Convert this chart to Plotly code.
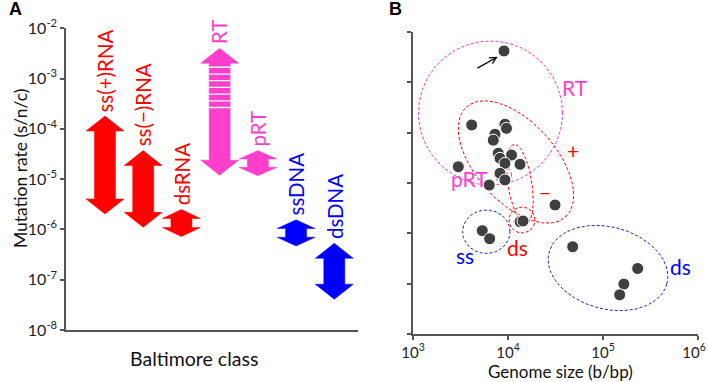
import numpy as np
import plotly.graph_objects as go

# ---------------- DATA ----------------
# Panel A: Baltimore classes, mutation-rate ranges (s/n/c)
classes = ["ss(+)RNA", "ss(\u2212)RNA", "dsRNA", "RT", "pRT", "ssDNA", "dsDNA"]
rate_low = [2.03e-6, 1.1e-6, 7.2e-7, 1.2e-5, 1.17e-5, 4.7e-7, 4.1e-8]
rate_high = [1.8e-4, 3.7e-5, 2.5e-6, 4.0e-3, 3.7e-5, 1.55e-6, 5.3e-7]
class_colors = ["#ff0000", "#ff0000", "#ff0000", "#ff3fcc", "#ff3fcc", "#0000ff", "#0000ff"]
rt_stripes = [1.68e-3, 1.23e-3, 9.1e-4, 6.7e-4, 4.9e-4, 3.6e-4, 2.66e-4]

# Panel B: genome size (b/bp) vs mutation rate (s/n/c)
genome_size = [9080, 4150, 9290, 9640, 7300, 7000, 7900, 10900, 8240, 9290, 13400,
               3000, 8240, 9290, 6350, 31300, 13400, 14400, 5360, 6410, 48000,
               232000, 166000, 150000]
mut_rate = [4.2e-3, 1.42e-4, 1.47e-4, 1.22e-4, 9.3e-5, 7.1e-5, 3.9e-5, 3.6e-5, 3.1e-5,
            2.46e-5, 2.35e-5, 2.1e-5, 1.56e-5, 1.15e-5, 9.1e-6, 3.66e-6, 1.7e-6,
            1.76e-6, 1.13e-6, 7.8e-7, 5.4e-7, 2.0e-7, 9.8e-8, 6.0e-8]

y_tick_exp = [-8, -7, -6, -5, -4, -3, -2]
x_tick_exp = [3, 4, 5, 6]
x_tick_text = ["10<sup>3</sup>", "10<sup>4</sup>", "10<sup>5</sup>", "10<sup>6</sup>\u00a0\u00a0"]

# ------------- LAYOUT GEOMETRY -------------
W, H = 708, 382
A_x0, A_x1, A_ytop, A_ybot = 66, 358, 28.3, 330
B_x0, B_x1, B_ytop, B_ybot = 413, 698, 32, 334
A_xrange = [-1.02, 6.62]
B_xrange = [3, 6]
yrange = [-8, -2]

RED, MAG, BLUE = "#ff0000", "#ff3fcc", "#0000ff"
MAG_LINE = "#e23ad0"
BLUE_LINE = "#2222bb"
FONT = "Lato"

fig = go.Figure()

# ---------- Panel A: double arrows ----------
pxA_x = (A_x1 - A_x0) / (A_xrange[1] - A_xrange[0])   # px per x unit
pxA_y = (A_ybot - A_ytop) / (yrange[1] - yrange[0])    # px per decade
hw = 19 / pxA_x
sw = 10.5 / pxA_x
head_dec = 15 / pxA_y

for i, (lo, hi, col) in enumerate(zip(rate_low, rate_high, class_colors)):
    t, b = np.log10(hi), np.log10(lo)
    h = min(head_dec, (t - b) / 3)
    xs = [i, i + hw, i + sw, i + sw, i + hw, i, i - hw, i - sw, i - sw, i - hw, i]
    ys = [t, t - h, t - h, b + h, b + h, b, b + h, b + h, t - h, t - h, t]
    fig.add_trace(go.Scatter(x=xs, y=[10 ** v for v in ys], mode="lines", fill="toself",
                             fillcolor=col, line=dict(color=col, width=0.5),
                             xaxis="x", yaxis="y", showlegend=False, hoverinfo="skip"))
    fig.add_annotation(x=i, y=t, xref="x", yref="y", text=classes[i], textangle=-90,
                       showarrow=False, xanchor="center", yanchor="bottom", yshift=2,
                       font=dict(family=FONT, size=20.5, color=col))

# RT stripes
ri = classes.index("RT")
for v in rt_stripes:
    fig.add_trace(go.Scatter(x=[ri - sw, ri + sw], y=[v, v], mode="lines",
                             line=dict(color="white", width=1.3), xaxis="x", yaxis="y",
                             showlegend=False, hoverinfo="skip"))

# ---------- Panel B: ellipses ----------
pxB_x = (B_x1 - B_x0) / (B_xrange[1] - B_xrange[0])
pxB_y = (B_ybot - B_ytop) / (yrange[1] - yrange[0])

# (center genome size, center rate, semi-axis a px, semi-axis b px, angle deg, color)
ellipses = [
    (10 ** 3.816, 10 ** -3.609, 72, 72, 0, MAG_LINE),
    (10 ** 3.951, 10 ** -4.841, 8.3, 8.3, 0, MAG_LINE),
    (10 ** 4.084, 10 ** -4.583, 74, 40, -48, RED),
    (10 ** 4.126, 10 ** -5.020, 40, 12, 98.7, RED),
    (10 ** 4.147, 10 ** -5.735, 13, 13, 0, RED),
    (10 ** 3.772, 10 ** -5.968, 23.7, 21.7, 0, BLUE_LINE),
    (10 ** 5.053, 10 ** -6.689, 61, 41, -15, BLUE_LINE),
]
tt = np.linspace(0, 2 * np.pi, 200)
for cx, cy, a, b, ang, col in ellipses:
    th = np.deg2rad(ang)
    dx = a * np.cos(tt) * np.cos(th) - b * np.sin(tt) * np.sin(th)
    dy = a * np.cos(tt) * np.sin(th) + b * np.sin(tt) * np.cos(th)
    ex = 10 ** (np.log10(cx) + dx / pxB_x)
    ey = 10 ** (np.log10(cy) + dy / pxB_y)
    fig.add_trace(go.Scatter(x=ex, y=ey, mode="lines",
                             line=dict(color=col, width=1, dash="3px,2px"),
                             xaxis="x2", yaxis="y2", showlegend=False, hoverinfo="skip"))

# points
fig.add_trace(go.Scatter(x=genome_size, y=mut_rate, mode="markers",
                         marker=dict(size=12, color="#3f3f3f", line=dict(color="white", width=1)),
                         xaxis="x2", yaxis="y2", showlegend=False))

# panel B labels
b_labels = [
    ("RT", 4.705, -3.093, MAG),
    ("+", 4.684, -4.364, RED),
    ("\u2212", 4.389, -5.179, RED),
    ("pRT", 3.60, -4.901, MAG),
    ("ss", 3.547, -6.431, BLUE),
    ("ds", 4.105, -6.272, RED),
    ("ds", 5.811, -6.649, BLUE),
]
for txt, lx, ly, col in b_labels:
    fig.add_annotation(x=lx, y=ly, xref="x2", yref="y2", text=txt, showarrow=False,
                       font=dict(family=FONT, size=21, color=col))

# black arrow
fig.add_annotation(x=3.892, y=-2.491, ax=3.663, ay=-2.735, xref="x2", yref="y2",
                   axref="x2", ayref="y2", text="", showarrow=True, arrowhead=5,
                   arrowsize=1, arrowwidth=1.3, arrowcolor="black")

# titles and panel letters
fig.add_annotation(x=20 / W, y=1 - 169 / H, xref="paper", yref="paper",
                   text="Mutation rate (s/n/c)", textangle=-90, showarrow=False,
                   xanchor="center", yanchor="middle",
                   font=dict(family=FONT, size=17.5, color="#111"))
fig.add_annotation(x=194 / W, y=1 - 358 / H, xref="paper", yref="paper",
                   text="Baltimore class", showarrow=False,
                   xanchor="center", yanchor="middle",
                   font=dict(family=FONT, size=19.5, color="#111"))
fig.add_annotation(x=560 / W, y=1 - 371.5 / H, xref="paper", yref="paper",
                   text="Genome size (b/bp)", showarrow=False,
                   xanchor="center", yanchor="middle",
                   font=dict(family=FONT, size=17, color="#111"))
fig.add_annotation(x=15 / W, y=1 - 9 / H, xref="paper", yref="paper", text="<b>A</b>",
                   showarrow=False, xanchor="center", yanchor="middle",
                   font=dict(family="Liberation Sans", size=18, color="black"))
fig.add_annotation(x=395 / W, y=1 - 9 / H, xref="paper", yref="paper", text="<b>B</b>",
                   showarrow=False, xanchor="center", yanchor="middle",
                   font=dict(family="Liberation Sans", size=18, color="black"))

axis_common = dict(showgrid=False, zeroline=False, showline=True, linecolor="#555",
                   linewidth=1.5, tickcolor="#555", tickwidth=1.5, automargin=False)
fig.update_layout(
    template="none",
    width=W, height=H, margin=dict(l=0, r=0, t=0, b=0, pad=0, autoexpand=False),
    paper_bgcolor="white", plot_bgcolor="white", showlegend=False,
    xaxis=dict(domain=[A_x0 / W, A_x1 / W], range=A_xrange, showticklabels=False,
               ticks="", anchor="y", **axis_common),
    yaxis=dict(domain=[1 - A_ybot / H, 1 - A_ytop / H], type="log", range=yrange,
               tickvals=[10 ** e for e in y_tick_exp],
               ticktext=[f"10<sup>{e}</sup>" for e in y_tick_exp],
               ticks="outside", ticklen=4, anchor="x",
               tickfont=dict(family=FONT, size=16, color="#222"), **axis_common),
    xaxis2=dict(domain=[B_x0 / W, B_x1 / W], type="log", range=[B_xrange[0], B_xrange[1] + 0.0005],
                tickvals=[10 ** e for e in x_tick_exp],
                ticktext=x_tick_text,
                ticks="outside", ticklen=4, anchor="y2", ticklabeloverflow="allow",
                tickfont=dict(family=FONT, size=15, color="#222"), **axis_common),
    yaxis2=dict(domain=[1 - B_ybot / H, 1 - B_ytop / H], type="log", range=yrange,
                tickvals=[10 ** e for e in y_tick_exp], showticklabels=False,
                ticks="outside", ticklen=4, anchor="x2", **axis_common),
)

fig.write_html("out.html", config={"displayModeBar": False},
               post_script="document.body.style.margin='0px';")
